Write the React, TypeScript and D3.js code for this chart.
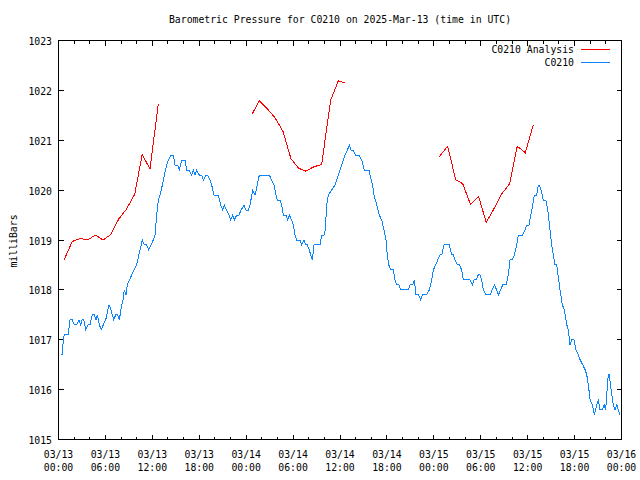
import React from 'react';
import * as d3 from 'd3';

const title = 'Barometric Pressure for C0210 on 2025-Mar-13 (time in UTC)';
const yLabel = 'milliBars';
const seriesNames = ['C0210 Analysis', 'C0210'];
const seriesColors = ['#ff0000', '#0a84ff'];
const yTicks = [1015, 1016, 1017, 1018, 1019, 1020, 1021, 1022, 1023];
const xTickHours = [0, 6, 12, 18, 24, 30, 36, 42, 48, 54, 60, 66, 72];
const xTickDates = ['03/13', '03/13', '03/13', '03/13', '03/14', '03/14', '03/14', '03/14', '03/15', '03/15', '03/15', '03/15', '03/16'];
const xTickTimes = ['00:00', '06:00', '12:00', '18:00', '00:00', '06:00', '12:00', '18:00', '00:00', '06:00', '12:00', '18:00', '00:00'];

// hours since 2025-03-13 00:00 UTC, pressure (mb)
const analysisSeg1: [number, number][] = [
  [0.74, 1018.61], [1.75, 1018.97], [2.75, 1019.03], [3.75, 1019.0], [4.7, 1019.1], [5.7, 1019.0],
  [6.7, 1019.11], [7.7, 1019.42], [8.7, 1019.62], [9.75, 1019.92], [10.7, 1020.71], [11.7, 1020.43],
  [12.76, 1021.72],
];
const analysisSeg2: [number, number][] = [
  [24.78, 1021.53], [25.68, 1021.79], [26.7, 1021.63], [27.7, 1021.45], [28.7, 1021.18], [29.73, 1020.63],
  [30.7, 1020.44], [31.65, 1020.38], [32.67, 1020.47], [33.65, 1020.51], [34.8, 1021.8], [35.78, 1022.19],
  [36.64, 1022.15],
];
const analysisSeg3: [number, number][] = [
  [48.7, 1020.67], [49.77, 1020.88], [50.79, 1020.21], [51.69, 1020.13], [52.7, 1019.71], [53.73, 1019.87],
  [54.7, 1019.35], [55.7, 1019.63], [56.67, 1019.92], [57.7, 1020.13], [58.67, 1020.88], [59.7, 1020.75],
  [60.7, 1021.3],
];

const observed: [number, number][] = [
  [0.28, 1016.7], [0.49, 1016.7], [0.61, 1017.0], [0.74, 1017.1], [1.25, 1017.1], [1.47, 1017.4], [1.76, 1017.4],
  [2.02, 1017.3], [2.33, 1017.3], [2.62, 1017.4], [2.84, 1017.3], [3.01, 1017.4], [3.22, 1017.4], [3.48, 1017.2],
  [3.81, 1017.3], [4.03, 1017.3], [4.32, 1017.5], [4.58, 1017.5], [4.8, 1017.4], [4.96, 1017.5], [5.22, 1017.3],
  [5.47, 1017.2], [5.73, 1017.3], [6.04, 1017.4], [6.46, 1017.7], [6.71, 1017.6], [7.06, 1017.4], [7.32, 1017.5],
  [7.57, 1017.5], [7.78, 1017.4], [8.08, 1017.7], [8.25, 1017.8], [8.42, 1018.0], [8.63, 1017.9], [8.8, 1018.1],
  [9.36, 1018.3], [10.0, 1018.5], [10.42, 1018.8], [10.72, 1019.0], [10.97, 1018.9], [11.28, 1018.9],
  [11.54, 1018.8], [11.83, 1018.9], [12.12, 1019.0], [12.34, 1019.1], [12.56, 1019.5], [12.76, 1019.8],
  [12.98, 1019.9], [13.28, 1020.1], [13.53, 1020.3], [13.84, 1020.5], [14.04, 1020.6], [14.39, 1020.7],
  [14.68, 1020.7], [14.9, 1020.5], [15.24, 1020.5], [15.45, 1020.4], [15.76, 1020.6], [16.18, 1020.6],
  [16.4, 1020.4], [16.69, 1020.4], [17.04, 1020.3], [17.24, 1020.4], [17.46, 1020.3], [17.67, 1020.4],
  [18.01, 1020.3], [18.31, 1020.3], [18.52, 1020.2], [18.83, 1020.3], [19.08, 1020.3], [19.38, 1020.2],
  [19.59, 1020.1], [19.89, 1019.9], [20.44, 1019.9], [20.74, 1019.7], [21.0, 1019.6], [21.2, 1019.7],
  [21.51, 1019.6], [21.81, 1019.5], [22.02, 1019.4], [22.28, 1019.5], [22.48, 1019.4], [22.79, 1019.5],
  [23.08, 1019.5], [23.34, 1019.6], [23.72, 1019.7], [23.98, 1019.6], [24.27, 1019.6], [24.49, 1019.7],
  [24.84, 1020.0], [25.13, 1019.9], [25.42, 1020.1], [25.68, 1020.3], [26.96, 1020.3], [27.27, 1020.2],
  [27.56, 1020.1], [27.82, 1019.9], [27.98, 1019.8], [28.33, 1019.8], [28.55, 1019.7], [28.75, 1019.5],
  [29.1, 1019.5], [29.31, 1019.4], [29.52, 1019.5], [29.82, 1019.4], [30.03, 1019.3], [30.25, 1019.1],
  [30.46, 1019.0], [30.89, 1019.0], [31.1, 1018.9], [31.4, 1019.0], [31.61, 1018.9], [31.82, 1018.9],
  [32.08, 1018.8], [32.25, 1018.7], [32.46, 1018.6], [32.68, 1018.9], [33.44, 1018.9], [33.66, 1019.1],
  [33.96, 1019.1], [34.12, 1019.2], [34.3, 1019.7], [34.51, 1019.9], [34.94, 1020.0], [35.36, 1020.1],
  [35.78, 1020.3], [36.22, 1020.5], [36.64, 1020.7], [36.94, 1020.8], [37.19, 1020.9], [37.41, 1020.8],
  [37.7, 1020.8], [38.01, 1020.7], [38.47, 1020.7], [38.78, 1020.6], [39.11, 1020.4], [39.71, 1020.4],
  [39.84, 1020.3], [40.18, 1020.1], [40.35, 1019.9], [40.7, 1019.7], [41.03, 1019.5], [41.33, 1019.4],
  [41.63, 1019.2], [41.88, 1019.0], [42.05, 1018.7], [42.23, 1018.5], [42.52, 1018.4], [42.82, 1018.4],
  [43.04, 1018.2], [43.25, 1018.1], [43.55, 1018.1], [43.76, 1018.0], [44.74, 1018.0], [44.95, 1018.1],
  [45.3, 1018.1], [45.5, 1018.2], [45.72, 1017.9], [46.02, 1017.9], [46.32, 1017.8], [46.53, 1017.9],
  [47.09, 1017.9], [47.42, 1018.0], [47.73, 1018.2], [47.93, 1018.4], [48.24, 1018.5], [48.5, 1018.6],
  [48.79, 1018.7], [49.01, 1018.7], [49.3, 1018.9], [49.98, 1018.9], [50.29, 1018.7], [50.49, 1018.7],
  [50.71, 1018.6], [51.0, 1018.5], [51.26, 1018.5], [51.57, 1018.4], [51.77, 1018.2], [52.63, 1018.2],
  [52.92, 1018.1], [53.14, 1018.2], [53.4, 1018.2], [53.69, 1018.3], [53.91, 1018.3], [54.12, 1018.2],
  [54.33, 1018.0], [54.67, 1017.9], [55.19, 1017.9], [55.74, 1018.1], [56.04, 1018.0], [56.25, 1017.9],
  [56.55, 1018.0], [56.81, 1018.1], [57.23, 1018.1], [57.53, 1018.3], [57.74, 1018.6], [58.04, 1018.6],
  [58.29, 1018.7], [58.6, 1018.9], [58.8, 1019.1], [59.37, 1019.1], [59.66, 1019.2], [59.88, 1019.3],
  [60.17, 1019.3], [60.39, 1019.5], [60.65, 1019.7], [60.85, 1019.9], [61.16, 1019.9], [61.36, 1020.1],
  [61.49, 1020.1], [61.71, 1020.0], [62.0, 1019.8], [62.31, 1019.8], [62.57, 1019.6], [62.86, 1019.2],
  [63.08, 1018.9], [63.28, 1018.7], [63.5, 1018.5], [63.72, 1018.5], [63.92, 1018.25], [64.14, 1018.0],
  [64.43, 1017.7], [64.69, 1017.6], [65.0, 1017.3], [65.2, 1017.2], [65.42, 1016.9], [65.63, 1017.0],
  [65.93, 1017.0], [66.18, 1016.8], [66.48, 1016.7], [66.7, 1016.6], [67.04, 1016.5], [67.34, 1016.4],
  [67.55, 1016.3], [67.76, 1016.1], [67.98, 1015.8], [68.27, 1015.7], [68.53, 1015.5], [68.83, 1015.7],
  [69.04, 1015.8], [69.25, 1015.6], [69.55, 1015.6], [69.77, 1015.7], [69.98, 1015.6], [70.11, 1015.9],
  [70.31, 1016.3], [70.44, 1016.3], [70.75, 1015.9], [70.95, 1015.7], [71.17, 1015.6], [71.39, 1015.7],
  [71.59, 1015.6], [71.81, 1015.5],
];

const analysisSegments = [analysisSeg1, analysisSeg2, analysisSeg3];

const FONT = "'DejaVu Sans Mono', 'Liberation Mono', monospace";

export default function App() {
  const W = 640;
  const H = 480;
  const left = 58.5, right = 621.5, top = 40.5, bottom = 439.5;
  const x = d3.scaleLinear().domain([0, 72]).range([left, right]);
  const y = d3.scaleLinear().domain([1015, 1023]).range([bottom, top]);
  const line = d3.line<[number, number]>().x((d) => x(d[0])).y((d) => y(d[1]));
  const minorHours = d3.range(0, 73, 2);

  return (
    <svg width={W} height={H} style={{ position: 'absolute', left: 0, top: 0, background: '#fff' }}
      fontFamily={FONT} fontSize={9.8}>
      <rect x={0} y={0} width={W} height={H} fill="#fff" />
      <text x={340} y={23} textAnchor="middle" fill="#000">{title}</text>
      <text transform="translate(16.5,241) rotate(-90)" textAnchor="middle" fill="#000">{yLabel}</text>

      {/* ticks */}
      <g stroke="#000" strokeWidth={1} shapeRendering="crispEdges">
        {minorHours.map((h) => {
          const len = h % 6 === 0 ? 5 : 3;
          const px = Math.round(x(h) - 0.5) + 0.5;
          return (
            <g key={'xt' + h}>
              <line x1={px} x2={px} y1={bottom} y2={bottom - len} />
              <line x1={px} x2={px} y1={top} y2={top + len} />
            </g>
          );
        })}
        {yTicks.map((v) => {
          const py = Math.round(y(v) - 0.5) + 0.5;
          return (
            <g key={'yt' + v}>
              <line x1={left} x2={left + 5} y1={py} y2={py} />
              <line x1={right} x2={right - 5} y1={py} y2={py} />
            </g>
          );
        })}
      </g>

      {yTicks.map((v) => (
        <text key={'yl' + v} x={52} y={y(v) + 4.5} textAnchor="end" fill="#000">{v}</text>
      ))}
      {xTickHours.map((h, i) => (
        <g key={'xl' + h}>
          <text x={x(h)} y={458} textAnchor="middle" fill="#000">{xTickDates[i]}</text>
          <text x={x(h)} y={470.5} textAnchor="middle" fill="#000">{xTickTimes[i]}</text>
        </g>
      ))}

      {/* data */}
      <g fill="none" strokeWidth={1} shapeRendering="crispEdges">
        <path d={line(observed) || ''} stroke={seriesColors[1]} />
        {analysisSegments.map((seg, i) => (
          <path key={'a' + i} d={line(seg) || ''} stroke={seriesColors[0]} />
        ))}
      </g>

      {/* legend */}
      <text x={574} y={53} textAnchor="end" fill="#000">{seriesNames[0]}</text>
      <line x1={581} x2={610} y1={49.5} y2={49.5} stroke={seriesColors[0]} shapeRendering="crispEdges" />
      <text x={574} y={66} textAnchor="end" fill="#000">{seriesNames[1]}</text>
      <line x1={581} x2={610} y1={62.5} y2={62.5} stroke={seriesColors[1]} shapeRendering="crispEdges" />

      {/* border */}
      <rect x={left} y={top} width={right - left} height={bottom - top} fill="none" stroke="#000"
        strokeWidth={1} shapeRendering="crispEdges" />
    </svg>
  );
}
